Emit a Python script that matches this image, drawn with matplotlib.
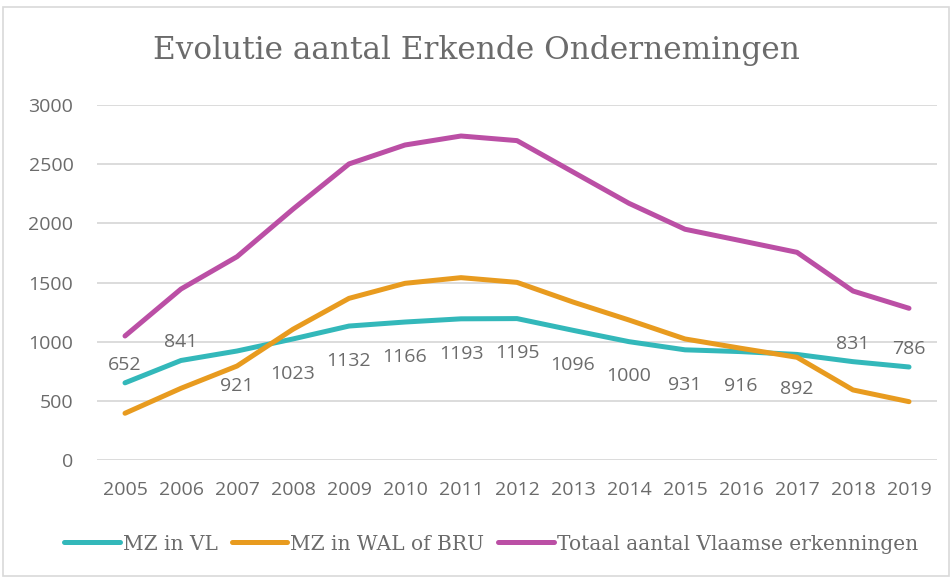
import matplotlib
matplotlib.use("Agg")
import matplotlib.pyplot as plt
from matplotlib.patches import Rectangle

# data
years = ["2005", "2006", "2007", "2008", "2009", "2010", "2011", "2012",
         "2013", "2014", "2015", "2016", "2017", "2018", "2019"]
mz_vl = [652, 841, 921, 1023, 1132, 1166, 1193, 1195, 1096, 1000, 931, 916, 892, 831, 786]
mz_wal_bru = [395, 606, 794, 1105, 1366, 1493, 1541, 1501, 1335, 1183, 1023, 944, 868, 592, 493]
totaal_vl = [1048, 1445, 1718, 2120, 2502, 2662, 2738, 2699, 2434, 2169, 1950, 1853, 1755, 1428, 1282]
label_above = [True, True, False, False, False, False, False, False,
               False, False, False, False, False, True, True]

TEAL = "#33B8BA"
ORANGE = "#E89B1F"
MAGENTA = "#BB4FA5"
TEXT = "#6B6B6B"
GRID = "#D9D9D9"

sans = ["Open Sans", "DejaVu Sans"]
serif = ["DejaVu Serif"]

W, H = 952, 579
fig = plt.figure(figsize=(W / 100, H / 100), dpi=100)
ax = fig.add_axes([97 / W, 1 - 460 / H, (937 - 97) / W, (460 - 105) / H])

x = list(range(len(years)))
lw = 3.6
ax.plot(x, mz_vl, color=TEAL, lw=lw, solid_capstyle="round", solid_joinstyle="round", label="MZ in VL", zorder=3)
ax.plot(x, mz_wal_bru, color=ORANGE, lw=lw, solid_capstyle="round", solid_joinstyle="round", label="MZ in WAL of BRU", zorder=3)
ax.plot(x, totaal_vl, color=MAGENTA, lw=lw, solid_capstyle="round", solid_joinstyle="round",
        label="Totaal aantal Vlaamse erkenningen", zorder=3)

# data labels on the teal series
for xi, v, up in zip(x, mz_vl, label_above):
    off = 13 if up else -25
    ax.annotate(str(v), (xi, v), xytext=(0, off), textcoords="offset points",
                ha="center", va="center", fontsize=14, color=TEXT, family=sans, zorder=4)

ax.set_xlim(-0.5, len(years) - 0.5)
ax.set_ylim(0, 3000)
ax.set_yticks(range(0, 3001, 500))
ax.set_xticks(x)
ax.set_xticklabels(years)
ax.grid(axis="y", color=GRID, lw=1.3)
ax.set_axisbelow(True)
for s in ax.spines.values():
    s.set_visible(False)
ax.tick_params(length=0, colors=TEXT, labelsize=14)
ax.tick_params(axis="x", pad=15)
ax.tick_params(axis="y", pad=17)
for lab in ax.get_xticklabels() + ax.get_yticklabels():
    lab.set_family(sans)

fig.text(0.5, 1 - 50 / H, "Evolutie aantal Erkende Ondernemingen", ha="center", va="center",
         fontsize=22.5, color=TEXT, family=serif)

leg = fig.legend(loc="center", bbox_to_anchor=(491 / W, 1 - 544 / H), ncol=3, frameon=False,
                 prop={"family": serif, "size": 14.5}, handlelength=2.75, handletextpad=0.15,
                 columnspacing=0.7)
for t in leg.get_texts():
    t.set_color(TEXT)

fig.patches.append(Rectangle((3 / W, 3 / H), 1 - 6 / W, 1 - 10 / H, transform=fig.transFigure,
                             fill=False, edgecolor=GRID, lw=1.2))

fig.savefig("out.png", dpi=100)
